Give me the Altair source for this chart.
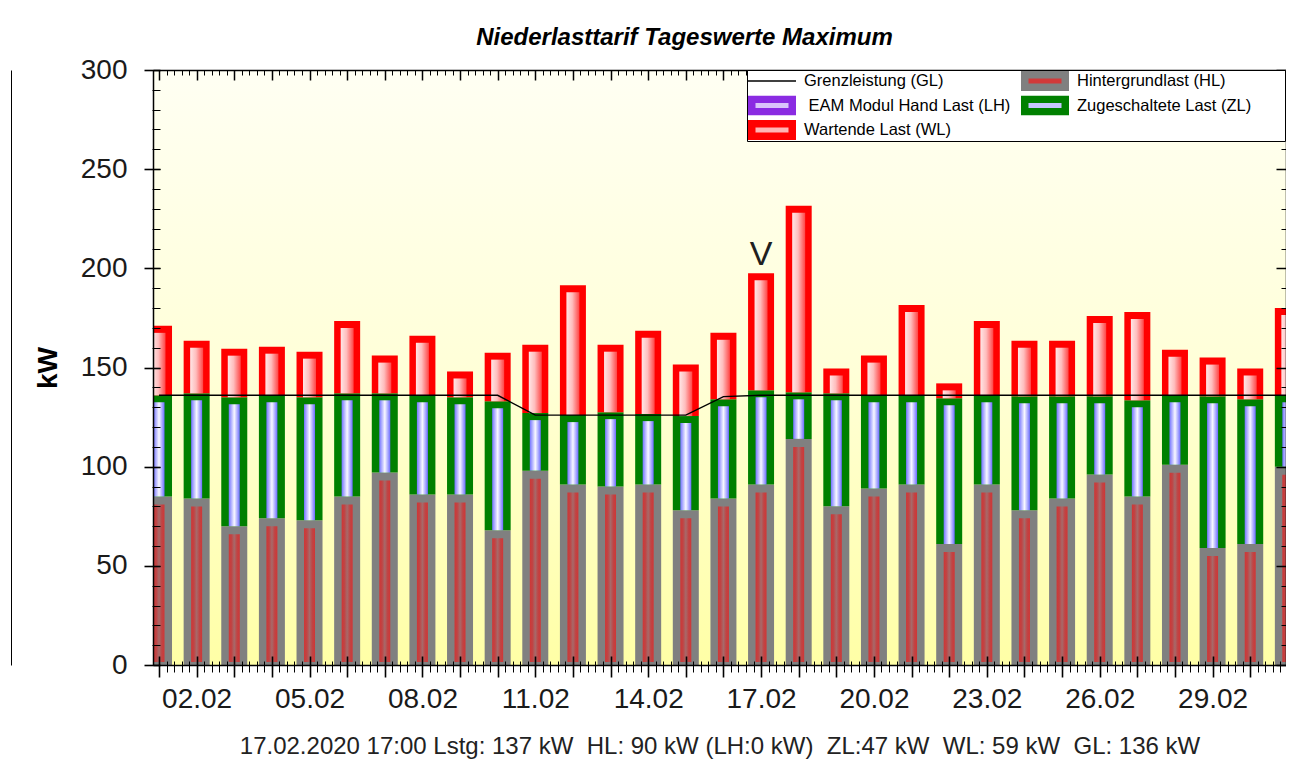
import json
import altair as alt
import pandas as pd

FONT = "Liberation Sans"

# ---------------- data ----------------
days = list(range(1, 32))
day_labels = ["01.02", "02.02", "03.02", "04.02", "05.02", "06.02", "07.02", "08.02",
              "09.02", "10.02", "11.02", "12.02", "13.02", "14.02", "15.02", "16.02",
              "17.02", "18.02", "19.02", "20.02", "21.02", "22.02", "23.02", "24.02",
              "25.02", "26.02", "27.02", "28.02", "29.02", "01.03", "02.03"]
# Hintergrundlast (grey)
hl = [85, 84, 70, 74, 73, 85, 97, 86, 86, 68, 98, 91, 90, 91, 78, 84,
      91, 114, 80, 89, 91, 61, 91, 78, 84, 96, 85, 101, 59, 61, 100]
# EAM Modul Hand Last (purple)
lh = [0, 0, 0, 0, 0, 0, 0, 0, 0, 0, 0, 0, 0, 0, 0, 0,
      0, 0, 0, 0, 0, 0, 0, 0, 0, 0, 0, 0, 0, 0, 0]
# Zugeschaltete Last (green)
zl = [51, 53, 65, 62, 62, 52, 40, 50, 49, 65, 29, 35, 37.5, 35.5, 47.5, 50,
      47.5, 23.5, 57, 47, 45, 73.5, 45, 57.5, 51.5, 39.5, 48.5, 35, 76.5, 73, 36]
# Wartende Last (red)
wl = [35, 26.5, 24.5, 24.5, 23, 36.5, 19, 30, 13, 24.5, 34.5, 65.5, 34, 42, 26, 33.5,
      59, 94, 12.5, 20, 45.5, 7.5, 37.5, 28, 28, 40.5, 44.5, 23, 19.5, 15.5, 44]
# Grenzleistung (black line)
gl = [136, 136, 136, 136, 136, 136, 136, 136, 136, 136, 126, 126, 126, 126, 126, 135.3,
      136, 136, 136, 136, 136, 136, 136, 136, 136, 136, 136, 136, 136, 136, 136]

marker_days = [17]
marker_text = ["V"]

title_text = "Niederlasttarif Tageswerte Maximum"
NB = "\u00a0"
ZW = "\u200b"
info_text = ("17.02.2020 17:00 Lstg: 137 kW" + NB * 2 + "HL: 90 kW (LH:0 kW)" + NB * 2 +
             "ZL:47 kW" + NB * 2 + "WL: 59 kW" + NB * 2 + "GL: 136 kW")

legend_names = ["Grenzleistung (GL)", "Hintergrundlast (HL)",
                ZW + NB + "EAM Modul Hand Last (LH)",
                "Zugeschaltete Last (ZL)" + NB * 7 + ZW, "Wartende Last (WL)"]
legend_fill = ["#000000", "#d23a3a", "#d9c4fb", "#c6c6ff", "#ffb4b4"]
legend_stroke = ["transparent", "#808080", "#8a2be2", "#008000", "#ff0000"]
RECT = "M-2.025,-0.625H2.025V0.625H-2.025Z"
LINE = "M-2.4,-0.07H2.4V0.07H-2.4Z"
legend_paths = [LINE, RECT, RECT, RECT, RECT]

# ---------------- tables ----------------
df = pd.DataFrame({"day": days, "label": day_labels, "HL": hl, "LH": lh,
                   "ZL": zl, "WL": wl, "GL": gl})
mk = pd.DataFrame({"day": marker_days, "txt": marker_text})
leg_df = pd.DataFrame({"serie": legend_names})

# ---------------- scales / axes ----------------
XD = [0.973, 30.818]
xs = alt.Scale(domain=XD, nice=False, zero=False)
ys = alt.Scale(domain=[0, 300], nice=False, zero=True)

major_x = [d for d in days if XD[0] <= d <= XD[1]]
minor_x = [round(d + f, 1) for d in range(0, 32) for f in (0.2, 0.4, 0.6, 0.8)
           if XD[0] <= d + f <= XD[1]]
major_y = list(range(0, 301, 50))
minor_y = list(range(0, 301, 10))

label_expr = ("datum.value % 3 == 2 ? " + json.dumps(day_labels) +
              "[datum.value - 1] : ''")


def ax(**kw):
    base = dict(grid=False, zindex=1, labels=False, ticks=False, domain=False,
                title=None, tickColor="black", domainColor="black")
    base.update(kw)
    return alt.Axis(**base)


bottom_domain = ax(orient="bottom", domain=True, domainWidth=1.5, title=info_text,
                   titleFont=FONT, titleFontSize=24, titleFontWeight="normal",
                   titleColor="#222222", titlePadding=69)
bottom_major = ax(orient="bottom", offset=-9, ticks=True, tickSize=21, tickWidth=1.6,
                  values=major_x, labels=True, labelExpr=label_expr, labelFont=FONT,
                  labelFontSize=28, labelColor="#1a1a1a", labelPadding=8,
                  labelOverlap=False, labelFlush=False)
bottom_minor = ax(orient="bottom", offset=-4, ticks=True, tickSize=11, tickWidth=1,
                  values=minor_x)
top_domain = ax(orient="top", domain=True, domainWidth=1.5)
top_major = ax(orient="top", offset=-10, ticks=True, tickSize=10, tickWidth=1.5,
               values=major_x)
top_minor = ax(orient="top", offset=-5, ticks=True, tickSize=5, tickWidth=1,
               values=minor_x)
left_domain = ax(orient="left", domain=True, domainWidth=1.5)
left_major = ax(orient="left", offset=-7, ticks=True, tickSize=16, tickWidth=1.6,
                values=major_y, labels=True, labelFont=FONT, labelFontSize=28,
                labelColor="#1a1a1a", labelPadding=17, labelOverlap=False,
                labelFlush=False, title="kW", titleFont=FONT, titleFontSize=28,
                titleFontWeight="bold", titleColor="black", titlePadding=18)
left_minor = ax(orient="left", offset=-7, ticks=True, tickSize=8, tickWidth=1,
                values=minor_y)
right_domain = ax(orient="right", domain=True, domainWidth=1.5)
right_major = ax(orient="right", offset=-10, ticks=True, tickSize=10, tickWidth=1.5,
                 values=major_y)
right_minor = ax(orient="right", offset=-5, ticks=True, tickSize=5, tickWidth=1,
                 values=minor_y)
frame_line = ax(orient="left", offset=142, domain=True, domainWidth=1)


def X(axis):
    return alt.X("day:Q", scale=xs, axis=axis)


def Y(field, axis):
    return alt.Y(field, scale=ys, axis=axis, title=None)


# ---------------- gradients ----------------
def grad(stops, x2=1, y2=0):
    return {"gradient": "linear", "x1": 0, "y1": 0, "x2": x2, "y2": y2,
            "stops": [{"offset": o, "color": c} for o, c in stops]}


bg_grad = grad([(0, "#fffff3"), (0.5, "#ffffd8"), (1, "#ffffa6")], x2=0, y2=1)
wl_grad = grad([(0, "#ffe6e6"), (0.45, "#ffbdbd"), (1, "#ff4646")])
zl_grad = grad([(0, "#7474ff"), (0.5, "#f8f8ff"), (1, "#6c6cff")])
hl_grad = grad([(0, "#d03636"), (0.25, "#c04444"), (0.5, "#a66a6a"),
                (0.75, "#c04444"), (1, "#d03636")])

# ---------------- layers ----------------
base = alt.Chart(df).transform_calculate(
    t_hl="datum.HL",
    t_lh="datum.HL + datum.LH",
    t_zl="datum.HL + datum.LH + datum.ZL",
    t_wl="datum.HL + datum.LH + datum.ZL + datum.WL",
)

background = alt.Chart(pd.DataFrame({"bg": [0]})).mark_rect(fill=bg_grad).encode(
    x=alt.value(0), x2=alt.value("width"), y=alt.value(0), y2=alt.value("height"))

hl_bar = base.mark_bar(width=26, fill="#808080", clip=True).encode(
    x=X(bottom_domain), y=Y("t_hl:Q", left_domain), y2=alt.datum(0))
lh_bar = base.mark_bar(width=26, fill="#8a2be2", clip=True).encode(
    x=X(top_domain), y=Y("t_lh:Q", left_major), y2="t_hl:Q")
zl_bar = base.mark_bar(width=26, fill="#008000", clip=True).encode(
    x=X(bottom_major), y=Y("t_zl:Q", left_minor), y2="t_lh:Q")
wl_bar = base.mark_bar(width=26, fill="#ff0000", clip=True).encode(
    x=X(bottom_minor), y=Y("t_wl:Q", right_major), y2="t_zl:Q")

hl_strip = base.mark_bar(width=11, fill=hl_grad, clip=True, yOffset=8, y2Offset=-3).encode(
    x=X(top_major), y=Y("t_hl:Q", right_minor), y2=alt.datum(0))
zl_strip = base.mark_bar(width=11, fill=zl_grad, clip=True, yOffset=7).encode(
    x=X(top_minor), y=Y("t_zl:Q", right_domain), y2="t_lh:Q")
wl_strip = base.mark_bar(width=13, fill=wl_grad, clip=True, yOffset=7).encode(
    x=X(None), y=Y("t_wl:Q", frame_line), y2="t_zl:Q")

gl_line = base.mark_line(color="black", strokeWidth=1.4, clip=True).encode(
    x=X(None), y=Y("GL:Q", None))

v_text = base.transform_lookup(
    lookup="day", from_=alt.LookupData(mk, "day", ["txt"])
).transform_filter("isValid(datum.txt)").mark_text(
    font=FONT, fontSize=34, baseline="alphabetic", dy=-8, color="#202020"
).encode(x=X(None), y=Y("t_wl:Q", None), text="txt:N")

leg = alt.Legend(orient="none", legendX=594, legendY=0, columns=2, gridAlign="all",
                 direction="horizontal", clipHeight=20,
                 title=None, fillColor="white", strokeColor="black", padding=1,
                 labelFont=FONT, labelFontSize=16.5, labelColor="black", labelLimit=400,
                 symbolSize=400, symbolStrokeWidth=7.5, symbolOffset=10,
                 labelOffset=18, rowPadding=4.5, columnPadding=10,
                 symbolOpacity=1, zindex=2)
legend_layer = alt.Chart(leg_df).mark_point(filled=True, opacity=0).encode(
    color=alt.Color("serie:N", scale=alt.Scale(domain=legend_names, range=legend_fill),
                    legend=leg),
    stroke=alt.Stroke("serie:N", scale=alt.Scale(domain=legend_names, range=legend_stroke),
                      legend=leg),
    shape=alt.Shape("serie:N", scale=alt.Scale(domain=legend_names, range=legend_paths),
                    legend=leg),
)

chart = alt.layer(
    background, hl_bar, lh_bar, zl_bar, wl_bar, hl_strip, zl_strip, wl_strip,
    gl_line, v_text, legend_layer
).resolve_axis(
    x="independent", y="independent"
).properties(
    width=1133, height=595,
    autosize=alt.AutoSizeParams(type="none"),
    padding={"left": 145, "top": 62, "right": 0, "bottom": 98},
    title=alt.TitleParams(title_text, font=FONT, fontSize=24, fontWeight="bold",
                          fontStyle="italic", color="black", anchor="middle",
                          frame="group", dx=-35, dy=22, offset=9, baseline="alphabetic"),
).configure_view(stroke="black", strokeWidth=1)

chart.save("out.html", embed_options={"renderer": "svg", "actions": False})
